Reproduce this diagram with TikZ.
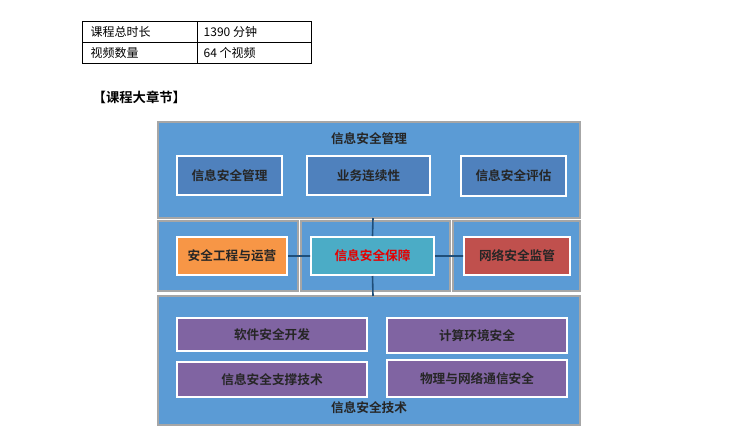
\documentclass[tikz,border=0pt]{standalone}
\usepackage{fontspec}
\setmainfont{Noto Sans CJK SC}
\newfontfamily\cjkb{Noto Sans CJK SC Bold}
\definecolor{outerb}{HTML}{5B9BD5}
\definecolor{innerb}{HTML}{4F81BD}
\definecolor{ora}{HTML}{F79646}
\definecolor{cya}{HTML}{4BACC6}
\definecolor{redb}{HTML}{C0504D}
\definecolor{pur}{HTML}{8064A2}
\definecolor{lin}{HTML}{1F4E79}
\begin{document}
\begin{tikzpicture}[x=0.75pt,y=-0.75pt,
  outer/.style={draw=gray!70,line width=1pt,fill=outerb},
  inner/.style={draw=white,line width=1.5pt},
  lbl/.style={font=\cjkb\fontsize{9.5}{11}\selectfont,text=black!85},
  cell/.style={font=\fontsize{9}{11}\selectfont,anchor=west},
  conn/.style={draw=lin,line width=1.2pt}]
\useasboundingbox (0,0) rectangle (730,440);
% table
\draw[line width=0.6pt] (82,21) rectangle (311,63) (82,42)--(311,42) (197,21)--(197,63);
\node[cell] (t1) at (86,31.5) {课程总时长};
\node[cell] (t2) at (199,31.5) {1390 分钟};
\node[cell] (t3) at (86,52.5) {视频数量};
\node[cell] (t4) at (199,52.5) {64 个视频};
\node[font=\cjkb\fontsize{10}{12}\selectfont,anchor=west] (hd) at (88,97) {【课程大章节】};
% outer boxes
\draw[outer] (158,122) rectangle (580,218);
\draw[outer] (158,221) rectangle (298,291);
\draw[outer] (301,221) rectangle (450,291);
\draw[outer] (453,221) rectangle (580,291);
\draw[outer] (158,296) rectangle (580,425);
\node[lbl] (tt) at (369,139) {信息安全管理};
\node[lbl] (bt) at (369,408) {信息安全技术};
% connectors
\coordinate (ctop) at (373,218);
\coordinate (cbot) at (373,296);
\node[inner,fill=ora,minimum width=110*0.75pt,minimum height=38*0.75pt,lbl] (o) at (232,256) {安全工程与运营};
\node[inner,fill=cya,minimum width=123*0.75pt,minimum height=38*0.75pt,lbl,text=red!90!black] (c) at (372.5,256) {信息安全保障};
\node[inner,fill=redb,minimum width=106*0.75pt,minimum height=38*0.75pt,lbl] (r) at (517,256) {网络安全监管};
\draw[conn] (o)--(c) (c)--(r) (ctop)--(c.north) (c.south)--(cbot);
% top inner
\node[inner,fill=innerb,minimum width=105*0.75pt,minimum height=39*0.75pt,lbl] (m1) at (229.5,175.5) {信息安全管理};
\node[inner,fill=innerb,minimum width=123*0.75pt,minimum height=39*0.75pt,lbl] (m2) at (368.5,175.5) {业务连续性};
\node[inner,fill=innerb,minimum width=105*0.75pt,minimum height=40*0.75pt,lbl] (m3) at (513.5,176) {信息安全评估};
% bottom inner
\node[inner,fill=pur,minimum width=190*0.75pt,minimum height=33*0.75pt,lbl] (p1) at (272,334.5) {软件安全开发};
\node[inner,fill=pur,minimum width=180*0.75pt,minimum height=35*0.75pt,lbl] (p2) at (477,335.5) {计算环境安全};
\node[inner,fill=pur,minimum width=190*0.75pt,minimum height=35*0.75pt,lbl] (p3) at (272,379.5) {信息安全支撑技术};
\node[inner,fill=pur,minimum width=180*0.75pt,minimum height=37*0.75pt,lbl] (p4) at (477,378.5) {物理与网络通信安全};
\end{tikzpicture}
\end{document}
